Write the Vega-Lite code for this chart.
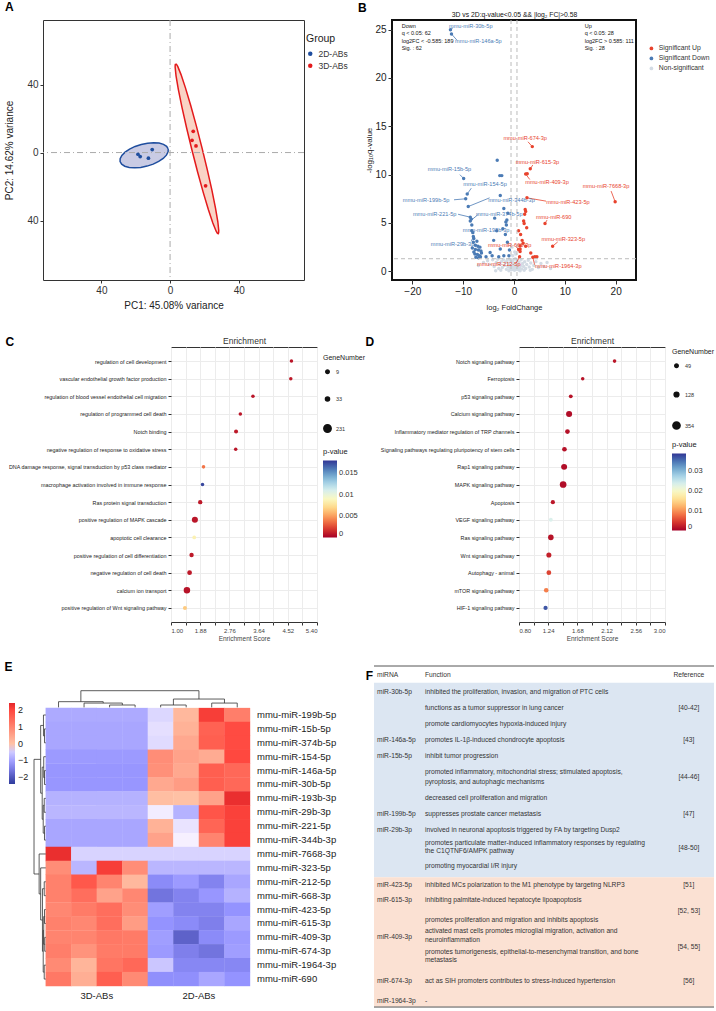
{
"$schema": "https://vega.github.io/schema/vega-lite/v6.json",
"padding": {"left": 3, "top": 0, "right": 0, "bottom": 0},
"background": "white",
"config": {
  "font": "Liberation Sans",
  "view": {"stroke": "#333"},
  "axis": {"labelColor": "#333", "titleColor": "#222", "titleFontWeight": "normal", "tickColor": "#333", "domainColor": "#333"},
  "legend": {"labelColor": "#333", "titleColor": "#222", "titleFontWeight": "normal"}
},
"datasets": {
  "ellB": [
    {"i":0,"x":-1.09,"y":2.15},{"i":15,"x":-2.01,"y":3.68},{"i":30,"x":-3.82,"y":4.84},{"i":45,"x":-6.40,"y":5.56},{"i":60,"x":-9.58,"y":5.80},{"i":75,"x":-13.13,"y":5.53},{"i":90,"x":-16.81,"y":4.78},{"i":105,"x":-20.38,"y":3.59},{"i":120,"x":-23.58,"y":2.04},{"i":135,"x":-26.21,"y":0.25},{"i":150,"x":-28.08,"y":-1.66},{"i":165,"x":-29.07,"y":-3.58},{"i":180,"x":-29.11,"y":-5.35},{"i":195,"x":-28.19,"y":-6.88},{"i":210,"x":-26.38,"y":-8.04},{"i":225,"x":-23.80,"y":-8.76},{"i":240,"x":-20.62,"y":-9.00},{"i":255,"x":-17.08,"y":-8.73},{"i":270,"x":-13.39,"y":-7.98},{"i":285,"x":-9.83,"y":-6.79},{"i":300,"x":-6.62,"y":-5.24},{"i":315,"x":-3.99,"y":-3.45},{"i":330,"x":-2.12,"y":-1.54},{"i":345,"x":-1.13,"y":0.38},{"i":360,"x":-1.09,"y":2.15}
  ],
  "ellR": [
    {"i":0,"x":3.28,"y":52.19},{"i":7.5,"x":3.01,"y":51.67},{"i":15,"x":2.95,"y":50.30},{"i":30,"x":3.48,"y":45.13},{"i":45,"x":4.84,"y":37.04},{"i":60,"x":6.94,"y":26.57},{"i":75,"x":9.64,"y":14.44},{"i":90,"x":12.74,"y":1.48},{"i":105,"x":16.04,"y":-11.43},{"i":120,"x":19.31,"y":-23.42},{"i":135,"x":22.34,"y":-33.66},{"i":150,"x":24.91,"y":-41.45},{"i":165,"x":26.84,"y":-46.27},{"i":172.5,"x":27.53,"y":-47.45},{"i":180,"x":28.02,"y":-47.79},{"i":187.5,"x":28.29,"y":-47.27},{"i":195,"x":28.35,"y":-45.90},{"i":210,"x":27.82,"y":-40.73},{"i":225,"x":26.46,"y":-32.64},{"i":240,"x":24.36,"y":-22.17},{"i":255,"x":21.66,"y":-10.04},{"i":270,"x":18.56,"y":2.92},{"i":285,"x":15.26,"y":15.83},{"i":300,"x":11.99,"y":27.82},{"i":315,"x":8.96,"y":38.06},{"i":330,"x":6.39,"y":45.85},{"i":345,"x":4.46,"y":50.67},{"i":352.5,"x":3.77,"y":51.85},{"i":360,"x":3.28,"y":52.19}
  ],
  "pca": [
    {"x":-18.7,"y":-1.0,"g":"2D-ABs"},{"x":-17.4,"y":-2.35,"g":"2D-ABs"},{"x":-12.6,"y":-3.35,"g":"2D-ABs"},{"x":-10.4,"y":1.76,"g":"2D-ABs"},
    {"x":13.5,"y":12.5,"g":"3D-ABs"},{"x":12.8,"y":7.2,"g":"3D-ABs"},{"x":15.1,"y":3.9,"g":"3D-ABs"},{"x":20.7,"y":-19.6,"g":"3D-ABs"}
  ],
  "volc": [
    {"x":-6.0,"y":0.9,"g":"n"},{"x":-5.2,"y":1.1,"g":"n"},{"x":-4.8,"y":0.7,"g":"n"},{"x":-4.2,"y":1.2,"g":"n"},{"x":-3.9,"y":0.5,"g":"n"},{"x":-3.5,"y":0.9,"g":"n"},{"x":-3.2,"y":1.25,"g":"n"},{"x":-3.0,"y":0.3,"g":"n"},{"x":-2.8,"y":0.7,"g":"n"},{"x":-2.5,"y":1.0,"g":"n"},{"x":-2.3,"y":0.4,"g":"n"},{"x":-2.1,"y":1.2,"g":"n"},{"x":-1.9,"y":0.6,"g":"n"},{"x":-1.7,"y":0.9,"g":"n"},{"x":-1.5,"y":0.2,"g":"n"},{"x":-1.4,"y":1.1,"g":"n"},{"x":-1.2,"y":0.5,"g":"n"},{"x":-1.1,"y":0.8,"g":"n"},{"x":-0.9,"y":1.25,"g":"n"},{"x":-0.8,"y":0.3,"g":"n"},{"x":-0.7,"y":0.6,"g":"n"},{"x":-0.6,"y":1.0,"g":"n"},{"x":-0.5,"y":0.15,"g":"n"},{"x":-0.4,"y":0.4,"g":"n"},{"x":-0.3,"y":0.7,"g":"n"},{"x":-0.2,"y":0.9,"g":"n"},{"x":-0.1,"y":0.2,"g":"n"},{"x":0.0,"y":0.5,"g":"n"},{"x":0.1,"y":0.1,"g":"n"},{"x":0.2,"y":0.35,"g":"n"},{"x":0.3,"y":0.8,"g":"n"},{"x":0.4,"y":0.6,"g":"n"},{"x":0.5,"y":0.2,"g":"n"},{"x":0.6,"y":1.1,"g":"n"},{"x":0.7,"y":0.45,"g":"n"},{"x":0.8,"y":0.75,"g":"n"},{"x":0.9,"y":0.15,"g":"n"},{"x":1.0,"y":0.95,"g":"n"},{"x":1.1,"y":0.35,"g":"n"},{"x":1.3,"y":0.6,"g":"n"},{"x":1.4,"y":1.2,"g":"n"},{"x":1.5,"y":0.25,"g":"n"},{"x":1.7,"y":0.8,"g":"n"},{"x":1.9,"y":0.5,"g":"n"},{"x":2.1,"y":1.0,"g":"n"},{"x":2.3,"y":0.3,"g":"n"},{"x":2.5,"y":0.7,"g":"n"},{"x":2.8,"y":1.15,"g":"n"},{"x":3.0,"y":0.45,"g":"n"},{"x":3.3,"y":0.85,"g":"n"},{"x":3.6,"y":0.2,"g":"n"},{"x":3.9,"y":0.6,"g":"n"},{"x":4.3,"y":1.0,"g":"n"},{"x":4.8,"y":0.4,"g":"n"},{"x":5.3,"y":0.8,"g":"n"},{"x":5.9,"y":0.5,"g":"n"},{"x":6.5,"y":0.9,"g":"n"},{"x":-0.25,"y":1.6,"g":"n"},{"x":0.15,"y":2.0,"g":"n"},{"x":-0.4,"y":2.5,"g":"n"},{"x":0.35,"y":1.8,"g":"n"},{"x":-7.0,"y":0.6,"g":"n"},{"x":7.2,"y":0.3,"g":"n"},{"x":-1.0,"y":0.05,"g":"n"},{"x":0.05,"y":0.8,"g":"n"},{"x":1.2,"y":0.05,"g":"n"},{"x":-2.6,"y":0.1,"g":"n"},{"x":2.0,"y":0.1,"g":"n"},{"x":-3.6,"y":0.05,"g":"n"},{"x":3.2,"y":0.1,"g":"n"},{"x":-0.15,"y":1.2,"g":"n"},{"x":0.25,"y":1.3,"g":"n"},
    {"x":-12.5,"y":25.0,"g":"d"},{"x":-12.3,"y":24.55,"g":"d"},{"x":-9.9,"y":9.6,"g":"d"},{"x":-9.2,"y":8.0,"g":"d"},{"x":-9.5,"y":7.5,"g":"d"},{"x":-9.0,"y":6.7,"g":"d"},{"x":-8.6,"y":5.6,"g":"d"},{"x":-8.6,"y":5.2,"g":"d"},{"x":-8.3,"y":4.2,"g":"d"},{"x":-8.0,"y":3.6,"g":"d"},
    {"x":-3.3,"y":11.5,"g":"d"},{"x":-2.8,"y":9.9,"g":"d"},{"x":-2.4,"y":9.9,"g":"d"},{"x":-2.7,"y":7.85,"g":"d"},{"x":-2.0,"y":6.5,"g":"d"},{"x":-3.8,"y":5.5,"g":"d"},{"x":-1.6,"y":5.1,"g":"d"},{"x":-1.5,"y":4.8,"g":"d"},{"x":-3.4,"y":4.2,"g":"d"},{"x":-1.7,"y":3.8,"g":"d"},{"x":-4.0,"y":3.2,"g":"d"},{"x":-1.3,"y":3.0,"g":"d"},{"x":-4.7,"y":1.95,"g":"d"},{"x":-2.7,"y":2.3,"g":"d"},{"x":-6.4,"y":1.9,"g":"d"},{"x":-7.6,"y":2.7,"g":"d"},{"x":-7.1,"y":2.6,"g":"d"},{"x":-6.7,"y":2.5,"g":"d"},{"x":-7.6,"y":2.25,"g":"d"},{"x":-7.0,"y":2.2,"g":"d"},{"x":-6.5,"y":2.1,"g":"d"},{"x":-7.7,"y":1.8,"g":"d"},{"x":-7.2,"y":1.75,"g":"d"},{"x":-6.8,"y":1.6,"g":"d"},{"x":-7.5,"y":1.45,"g":"d"},{"x":-7.0,"y":1.4,"g":"d"},{"x":-6.6,"y":1.5,"g":"d"},{"x":-7.9,"y":2.0,"g":"d"},{"x":-8.0,"y":3.0,"g":"d"},{"x":-8.2,"y":2.4,"g":"d"},{"x":-7.3,"y":3.1,"g":"d"},{"x":-1.2,"y":6.0,"g":"d"},{"x":-1.4,"y":5.3,"g":"d"},{"x":-2.2,"y":4.4,"g":"d"},{"x":-0.9,"y":2.2,"g":"d"},{"x":-1.0,"y":1.6,"g":"d"},{"x":-2.0,"y":1.6,"g":"d"},{"x":-3.0,"y":1.5,"g":"d"},{"x":-4.3,"y":1.6,"g":"d"},{"x":-5.5,"y":1.5,"g":"d"},{"x":-8.3,"y":4.8,"g":"d"},{"x":-8.4,"y":5.4,"g":"d"},{"x":-8.1,"y":4.0,"g":"d"},{"x":-7.9,"y":3.4,"g":"d"},
    {"x":3.6,"y":12.9,"g":"u"},{"x":3.2,"y":10.6,"g":"u"},{"x":2.3,"y":10.06,"g":"u"},{"x":19.9,"y":7.2,"g":"u"},{"x":2.55,"y":7.6,"g":"u"},{"x":6.1,"y":4.95,"g":"u"},{"x":7.6,"y":2.6,"g":"u"},{"x":3.7,"y":1.45,"g":"u"},{"x":1.1,"y":1.5,"g":"u"},{"x":0.9,"y":2.25,"g":"u"},{"x":2.6,"y":10.1,"g":"u"},{"x":2.2,"y":6.4,"g":"u"},{"x":2.3,"y":6.2,"g":"u"},{"x":2.1,"y":5.9,"g":"u"},{"x":1.9,"y":5.2,"g":"u"},{"x":2.0,"y":4.95,"g":"u"},{"x":0.9,"y":4.2,"g":"u"},{"x":1.3,"y":3.8,"g":"u"},{"x":1.6,"y":3.2,"g":"u"},{"x":1.2,"y":2.65,"g":"u"},{"x":1.2,"y":2.3,"g":"u"},{"x":1.2,"y":2.05,"g":"u"},{"x":2.3,"y":2.6,"g":"u"},{"x":3.3,"y":1.9,"g":"u"},{"x":4.1,"y":1.5,"g":"u"},{"x":4.5,"y":1.5,"g":"u"},{"x":1.8,"y":2.9,"g":"u"},{"x":2.5,"y":4.5,"g":"u"}
  ],
  "vlab": [
    {"n":"mmu-miR-30b-5p","g":"d","px":-12.5,"py":25.0,"ex":-12.0,"ey":25.2,"lx":-8.5,"ly":25.4},
    {"n":"mmu-miR-146a-5p","g":"d","px":-12.3,"py":24.55,"ex":-11.2,"ey":23.9,"lx":-7.0,"ly":23.8},
    {"n":"mmu-miR-674-3p","g":"u","px":3.6,"py":12.9,"ex":2.75,"ey":13.4,"lx":2.2,"ly":13.8},
    {"n":"mmu-miR-615-3p","g":"u","px":3.2,"py":10.6,"ex":3.7,"ey":11.0,"lx":4.6,"ly":11.3},
    {"n":"mmu-miR-409-3p","g":"u","px":2.3,"py":10.06,"ex":3.1,"ey":9.5,"lx":6.5,"ly":9.2},
    {"n":"mmu-miR-7668-3p","g":"u","px":19.9,"py":7.2,"ex":19.1,"ey":8.3,"lx":18.1,"ly":8.8},
    {"n":"mmu-miR-423-5p","g":"u","px":2.55,"py":7.6,"ex":6.3,"ey":7.26,"lx":10.6,"ly":7.2},
    {"n":"mmu-miR-690","g":"u","px":6.1,"py":4.95,"ex":6.5,"ey":5.3,"lx":7.8,"ly":5.6},
    {"n":"mmu-miR-323-5p","g":"u","px":7.6,"py":2.6,"ex":8.6,"ey":3.04,"lx":9.7,"ly":3.35},
    {"n":"mmu-miR-1964-3p","g":"u","px":3.7,"py":1.45,"ex":4.05,"ey":0.69,"lx":8.7,"ly":0.5},
    {"n":"mmu-miR-212-5p","g":"u","px":1.1,"py":1.5,"ex":0.45,"ey":0.86,"lx":-3.0,"ly":0.76},
    {"n":"mmu-miR-668-3p","g":"u","px":0.9,"py":2.25,"ex":0.5,"ey":2.5,"lx":-0.85,"ly":2.67},
    {"n":"mmu-miR-15b-5p","g":"d","px":-9.9,"py":9.6,"ex":-10.65,"ey":10.0,"lx":-12.7,"ly":10.6},
    {"n":"mmu-miR-154-5p","g":"d","px":-9.2,"py":8.0,"ex":-8.4,"ey":8.6,"lx":-5.7,"ly":9.0},
    {"n":"mmu-miR-199b-5p","g":"d","px":-9.5,"py":7.5,"ex":-11.8,"ey":7.4,"lx":-17.3,"ly":7.4},
    {"n":"mmu-miR-344b-3p","g":"d","px":-9.0,"py":6.7,"ex":-4.8,"ey":7.6,"lx":-0.5,"ly":7.4},
    {"n":"mmu-miR-221-5p","g":"d","px":-8.6,"py":5.6,"ex":-11.0,"ey":5.9,"lx":-15.6,"ly":5.9},
    {"n":"mmu-miR-374b-5p","g":"d","px":-8.6,"py":5.2,"ex":-7.05,"ey":5.88,"lx":-2.9,"ly":5.9},
    {"n":"mmu-miR-193b-3p","g":"d","px":-8.3,"py":4.2,"ex":-8.0,"ey":4.3,"lx":-5.5,"ly":4.3},
    {"n":"mmu-miR-29b-3p","g":"d","px":-8.0,"py":3.6,"ex":-8.4,"ey":3.1,"lx":-12.1,"ly":2.8}
  ],
  "vann": [
    {"t":"Down","x":-22.1,"y":25.4},{"t":"q < 0.05: 62","x":-22.1,"y":24.62},{"t":"log2FC < -0.585: 189","x":-22.1,"y":23.84},{"t":"Sig. : 62","x":-22.1,"y":23.06},
    {"t":"Up","x":13.9,"y":25.4},{"t":"q < 0.05: 28","x":13.9,"y":24.62},{"t":"log2FC > 0.585: 111","x":13.9,"y":23.84},{"t":"Sig. : 28","x":13.9,"y":23.06}
  ],
  "go": [
    {"t":"regulation of cell development","s":4.63,"n":10,"p":0.0008},
    {"t":"vascular endothelial growth factor production","s":4.61,"n":11,"p":0.0009},
    {"t":"regulation of blood vessel endothelial cell migration","s":3.47,"n":11,"p":0.0008},
    {"t":"regulation of programmed cell death","s":3.09,"n":12,"p":0.0008},
    {"t":"Notch binding","s":2.96,"n":30,"p":0.0009},
    {"t":"negative regulation of response to oxidative stress","s":2.95,"n":10,"p":0.0008},
    {"t":"DNA damage response, signal transduction by p53 class mediator","s":1.98,"n":12,"p":0.0038},
    {"t":"macrophage activation involved in immune response","s":1.95,"n":10,"p":0.0175},
    {"t":"Ras protein signal transduction","s":1.88,"n":45,"p":0.0009},
    {"t":"positive regulation of MAPK cascade","s":1.72,"n":140,"p":0.0008},
    {"t":"apoptotic cell clearance","s":1.70,"n":20,"p":0.0085},
    {"t":"positive regulation of cell differentiation","s":1.62,"n":45,"p":0.0009},
    {"t":"negative regulation of cell death","s":1.56,"n":65,"p":0.0009},
    {"t":"calcium ion transport","s":1.48,"n":170,"p":0.0007},
    {"t":"positive regulation of Wnt signaling pathway","s":1.42,"n":30,"p":0.0065}
  ],
  "kegg": [
    {"t":"Notch signaling pathway","s":2.24,"n":60,"p":0.0018},
    {"t":"Ferroptosis","s":1.76,"n":52,"p":0.0015},
    {"t":"p53 signaling pathway","s":1.58,"n":72,"p":0.0015},
    {"t":"Calcium signaling pathway","s":1.555,"n":240,"p":0.001},
    {"t":"Inflammatory mediator regulation of TRP channels","s":1.53,"n":125,"p":0.0013},
    {"t":"Signaling pathways regulating pluripotency of stem cells","s":1.485,"n":125,"p":0.0013},
    {"t":"Rap1 signaling pathway","s":1.48,"n":230,"p":0.001},
    {"t":"MAPK signaling pathway","s":1.465,"n":300,"p":0.001},
    {"t":"Apoptosis","s":1.31,"n":95,"p":0.0018},
    {"t":"VEGF signaling pathway","s":1.28,"n":70,"p":0.0235},
    {"t":"Ras signaling pathway","s":1.28,"n":190,"p":0.0015},
    {"t":"Wnt signaling pathway","s":1.25,"n":155,"p":0.0025},
    {"t":"Autophagy - animal","s":1.25,"n":130,"p":0.005},
    {"t":"mTOR signaling pathway","s":1.21,"n":115,"p":0.0088},
    {"t":"HIF-1 signaling pathway","s":1.20,"n":95,"p":0.037}
  ],
  "heat": [
    {"m":"mmu-miR-199b-5p","r":0.5,"c":[0.5,1.5,2.5,3.5,4.5,5.5,6.5,7.5],"v":[-0.9,-0.9,-0.9,-0.9,-0.35,0.15,2.1,1.1]},
    {"m":"mmu-miR-15b-5p","r":1.5,"c":[0.5,1.5,2.5,3.5,4.5,5.5,6.5,7.5],"v":[-0.95,-0.95,-0.95,-0.95,-0.25,0.25,1.55,1.9]},
    {"m":"mmu-miR-374b-5p","r":2.5,"c":[0.5,1.5,2.5,3.5,4.5,5.5,6.5,7.5],"v":[-0.95,-0.95,-0.95,-0.95,-0.3,0.4,1.6,1.9]},
    {"m":"mmu-miR-154-5p","r":3.5,"c":[0.5,1.5,2.5,3.5,4.5,5.5,6.5,7.5],"v":[-1.1,-1.1,-1.1,-1.1,0.85,0.5,0.35,1.95]},
    {"m":"mmu-miR-146a-5p","r":4.5,"c":[0.5,1.5,2.5,3.5,4.5,5.5,6.5,7.5],"v":[-1.15,-1.15,-1.15,-1.15,0.8,0.4,1.6,1.45]},
    {"m":"mmu-miR-30b-5p","r":5.5,"c":[0.5,1.5,2.5,3.5,4.5,5.5,6.5,7.5],"v":[-1.15,-1.15,-1.15,-1.15,0.4,0.6,1.6,1.45]},
    {"m":"mmu-miR-193b-3p","r":6.5,"c":[0.5,1.5,2.5,3.5,4.5,5.5,6.5,7.5],"v":[-0.8,-0.8,-0.8,-0.8,0.05,0.0,0.5,2.3]},
    {"m":"mmu-miR-29b-3p","r":7.5,"c":[0.5,1.5,2.5,3.5,4.5,5.5,6.5,7.5],"v":[-0.75,-0.75,-0.75,-0.75,-0.1,-0.8,1.75,2.05]},
    {"m":"mmu-miR-221-5p","r":8.5,"c":[0.5,1.5,2.5,3.5,4.5,5.5,6.5,7.5],"v":[-0.95,-0.95,-0.95,-0.95,0.25,-0.2,1.5,2.05]},
    {"m":"mmu-miR-344b-3p","r":9.5,"c":[0.5,1.5,2.5,3.5,4.5,5.5,6.5,7.5],"v":[-0.95,-0.95,-0.95,-0.95,0.5,-0.05,1.0,2.05]},
    {"m":"mmu-miR-7668-3p","r":10.5,"c":[0.5,1.5,2.5,3.5,4.5,5.5,6.5,7.5],"v":[2.3,-0.4,-0.4,-0.4,-0.4,-0.4,-0.4,-0.4]},
    {"m":"mmu-miR-323-5p","r":11.5,"c":[0.5,1.5,2.5,3.5,4.5,5.5,6.5,7.5],"v":[0.85,-0.75,2.1,0.85,-0.75,-0.75,-0.75,-0.75]},
    {"m":"mmu-miR-212-5p","r":12.5,"c":[0.5,1.5,2.5,3.5,4.5,5.5,6.5,7.5],"v":[1.05,1.7,1.0,0.15,-1.3,-1.1,-1.4,-0.95]},
    {"m":"mmu-miR-668-3p","r":13.5,"c":[0.5,1.5,2.5,3.5,4.5,5.5,6.5,7.5],"v":[1.05,1.35,0.5,0.95,-1.6,-1.4,-1.15,-0.8]},
    {"m":"mmu-miR-423-5p","r":14.5,"c":[0.5,1.5,2.5,3.5,4.5,5.5,6.5,7.5],"v":[0.95,1.15,1.35,0.85,-1.05,-1.4,-1.4,-1.2]},
    {"m":"mmu-miR-615-3p","r":15.5,"c":[0.5,1.5,2.5,3.5,4.5,5.5,6.5,7.5],"v":[1.05,0.95,1.35,0.6,-1.2,-1.3,-1.45,-0.95]},
    {"m":"mmu-miR-409-3p","r":16.5,"c":[0.5,1.5,2.5,3.5,4.5,5.5,6.5,7.5],"v":[1.0,1.0,1.2,1.15,-1.05,-1.85,-1.3,-1.1]},
    {"m":"mmu-miR-674-3p","r":17.5,"c":[0.5,1.5,2.5,3.5,4.5,5.5,6.5,7.5],"v":[1.1,0.75,1.15,1.15,-1.1,-1.45,-1.6,-1.05]},
    {"m":"mmu-miR-1964-3p","r":18.5,"c":[0.5,1.5,2.5,3.5,4.5,5.5,6.5,7.5],"v":[0.9,0.2,1.25,1.45,-0.55,-1.35,-1.35,-1.35]},
    {"m":"mmu-miR-690","r":19.5,"c":[0.5,1.5,2.5,3.5,4.5,5.5,6.5,7.5],"v":[1.2,0.3,1.6,0.9,-1.25,-1.25,-0.95,-1.2]}
  ],
  "dtop": [
    {"p1":2.5,"h1":-0.05,"p2":2.5,"h2":-0.22},{"p1":3.5,"h1":-0.05,"p2":3.5,"h2":-0.22},{"p1":2.5,"h1":-0.22,"p2":3.5,"h2":-0.22},
    {"p1":1.5,"h1":-0.05,"p2":1.5,"h2":-0.36},{"p1":3.0,"h1":-0.22,"p2":3.0,"h2":-0.36},{"p1":1.5,"h1":-0.36,"p2":3.0,"h2":-0.36},
    {"p1":0.5,"h1":-0.05,"p2":0.5,"h2":-0.46},{"p1":2.25,"h1":-0.36,"p2":2.25,"h2":-0.46},{"p1":0.5,"h1":-0.46,"p2":2.25,"h2":-0.46},
    {"p1":4.5,"h1":-0.05,"p2":4.5,"h2":-0.22},{"p1":5.5,"h1":-0.05,"p2":5.5,"h2":-0.22},{"p1":4.5,"h1":-0.22,"p2":5.5,"h2":-0.22},
    {"p1":6.5,"h1":-0.05,"p2":6.5,"h2":-0.36},{"p1":7.5,"h1":-0.05,"p2":7.5,"h2":-0.36},{"p1":6.5,"h1":-0.36,"p2":7.5,"h2":-0.36},
    {"p1":5.0,"h1":-0.22,"p2":5.0,"h2":-0.65},{"p1":7.0,"h1":-0.36,"p2":7.0,"h2":-0.65},{"p1":5.0,"h1":-0.65,"p2":7.0,"h2":-0.65},
    {"p1":1.375,"h1":-0.46,"p2":1.375,"h2":-1.25},{"p1":6.0,"h1":-0.65,"p2":6.0,"h2":-1.25},{"p1":1.375,"h1":-1.25,"p2":6.0,"h2":-1.25}
  ],
  "dleft": [
    {"h1":0,"p1":1.5,"h2":-0.05,"p2":1.5},{"h1":0,"p1":2.5,"h2":-0.05,"p2":2.5},{"h1":-0.05,"p1":1.5,"h2":-0.05,"p2":2.5},
    {"h1":0,"p1":0.5,"h2":-0.09,"p2":0.5},{"h1":-0.05,"p1":2,"h2":-0.09,"p2":2},{"h1":-0.09,"p1":0.5,"h2":-0.09,"p2":2},
    {"h1":0,"p1":4.5,"h2":-0.05,"p2":4.5},{"h1":0,"p1":5.5,"h2":-0.05,"p2":5.5},{"h1":-0.05,"p1":4.5,"h2":-0.05,"p2":5.5},
    {"h1":0,"p1":3.5,"h2":-0.08,"p2":3.5},{"h1":-0.05,"p1":5,"h2":-0.08,"p2":5},{"h1":-0.08,"p1":3.5,"h2":-0.08,"p2":5},
    {"h1":0,"p1":6.5,"h2":-0.06,"p2":6.5},{"h1":0,"p1":7.5,"h2":-0.06,"p2":7.5},{"h1":-0.06,"p1":6.5,"h2":-0.06,"p2":7.5},
    {"h1":0,"p1":8.5,"h2":-0.05,"p2":8.5},{"h1":0,"p1":9.5,"h2":-0.05,"p2":9.5},{"h1":-0.05,"p1":8.5,"h2":-0.05,"p2":9.5},
    {"h1":-0.06,"p1":7,"h2":-0.1,"p2":7},{"h1":-0.05,"p1":9,"h2":-0.1,"p2":9},{"h1":-0.1,"p1":7,"h2":-0.1,"p2":9},
    {"h1":-0.08,"p1":4.25,"h2":-0.14,"p2":4.25},{"h1":-0.1,"p1":8,"h2":-0.14,"p2":8},{"h1":-0.14,"p1":4.25,"h2":-0.14,"p2":8},
    {"h1":-0.09,"p1":1.25,"h2":-0.2,"p2":1.25},{"h1":-0.14,"p1":6.125,"h2":-0.2,"p2":6.125},{"h1":-0.2,"p1":1.25,"h2":-0.2,"p2":6.125},
    {"h1":0,"p1":12.5,"h2":-0.06,"p2":12.5},{"h1":0,"p1":13.5,"h2":-0.06,"p2":13.5},{"h1":-0.06,"p1":12.5,"h2":-0.06,"p2":13.5},
    {"h1":0,"p1":14.5,"h2":-0.05,"p2":14.5},{"h1":0,"p1":15.5,"h2":-0.05,"p2":15.5},{"h1":-0.05,"p1":14.5,"h2":-0.05,"p2":15.5},
    {"h1":0,"p1":16.5,"h2":-0.04,"p2":16.5},{"h1":0,"p1":17.5,"h2":-0.04,"p2":17.5},{"h1":-0.04,"p1":16.5,"h2":-0.04,"p2":17.5},
    {"h1":0,"p1":18.5,"h2":-0.06,"p2":18.5},{"h1":0,"p1":19.5,"h2":-0.06,"p2":19.5},{"h1":-0.06,"p1":18.5,"h2":-0.06,"p2":19.5},
    {"h1":-0.05,"p1":15,"h2":-0.08,"p2":15},{"h1":-0.04,"p1":17,"h2":-0.08,"p2":17},{"h1":-0.08,"p1":15,"h2":-0.08,"p2":17},
    {"h1":-0.08,"p1":16,"h2":-0.1,"p2":16},{"h1":-0.06,"p1":19,"h2":-0.1,"p2":19},{"h1":-0.1,"p1":16,"h2":-0.1,"p2":19},
    {"h1":-0.06,"p1":13,"h2":-0.13,"p2":13},{"h1":-0.1,"p1":17.5,"h2":-0.13,"p2":17.5},{"h1":-0.13,"p1":13,"h2":-0.13,"p2":17.5},
    {"h1":0,"p1":11.5,"h2":-0.2,"p2":11.5},{"h1":-0.13,"p1":15.25,"h2":-0.2,"p2":15.25},{"h1":-0.2,"p1":11.5,"h2":-0.2,"p2":15.25},
    {"h1":0,"p1":10.5,"h2":-0.26,"p2":10.5},{"h1":-0.2,"p1":13.375,"h2":-0.26,"p2":13.375},{"h1":-0.26,"p1":10.5,"h2":-0.26,"p2":13.375},
    {"h1":-0.2,"p1":3.69,"h2":-0.46,"p2":3.69},{"h1":-0.26,"p1":11.94,"h2":-0.46,"p2":11.94},{"h1":-0.46,"p1":3.69,"h2":-0.46,"p2":11.94}
  ],
  "fm": [
    {"t":"miRNA","l":1.16},{"t":"miR-30b-5p","l":3.25},{"t":"miR-146a-5p","l":9.29},{"t":"miR-15b-5p","l":11.29},{"t":"miR-199b-5p","l":18.46},{"t":"miR-29b-3p","l":20.46},{"t":"miR-423-5p","l":27.34},{"t":"miR-615-3p","l":29.29},{"t":"miR-409-3p","l":33.91},{"t":"miR-674-3p","l":39.34},{"t":"miR-1964-3p","l":41.91}
  ],
  "ff": [
    {"t":"Function","l":1.16},
    {"t":"inhibited the proliferation, invasion, and migration of PTC cells","l":3.25},
    {"t":"functions as a tumor suppressor in lung cancer","l":5.25},
    {"t":"promote cardiomyocytes hypoxia-induced injury","l":7.31},
    {"t":"promotes IL-1β-induced chondrocyte apoptosis","l":9.29},
    {"t":"inhibit tumor progression","l":11.29},
    {"t":"promoted inflammatory, mitochondrial stress; stimulated apoptosis,","l":13.29},
    {"t":"pyroptosis, and autophagic mechanisms","l":14.54},
    {"t":"decreased cell proliferation and migration","l":16.5},
    {"t":"suppresses prostate cancer metastasis","l":18.46},
    {"t":"involved in neuronal apoptosis triggered by FA by targeting Dusp2","l":20.46},
    {"t":"promotes particulate matter-induced inflammatory responses by regulating","l":22.13},
    {"t":"the C1QTNF6/AMPK pathway","l":23.16},
    {"t":"promoting myocardial I/R injury","l":25.04},
    {"t":"inhibited MCs polarization to the M1 phenotype by targeting NLRP3","l":27.34},
    {"t":"inhibiting palmitate-induced hepatocyte lipoapoptosis","l":29.29},
    {"t":"promotes proliferation and migration and inhibits apoptosis","l":31.71},
    {"t":"activated mast cells promotes microglial migration, activation and","l":33.16},
    {"t":"neuroinflammation","l":34.21},
    {"t":"promotes tumorigenesis, epithelial-to-mesenchymal transition, and bone","l":35.79},
    {"t":"metastasis","l":36.79},
    {"t":"act as SIH promoters contributes to stress-induced hypertension","l":39.34},
    {"t":"-","l":41.91}
  ],
  "fr": [
    {"t":"Reference","l":1.16},{"t":"[40-42]","l":5.25},{"t":"[43]","l":9.29},{"t":"[44-46]","l":13.91},{"t":"[47]","l":18.46},{"t":"[48-50]","l":22.75},{"t":"[51]","l":27.34},{"t":"[52, 53]","l":30.59},{"t":"[54, 55]","l":35.13},{"t":"[56]","l":39.34}
  ]
},
"resolve": {"scale": {"color": "independent", "size": "independent"}, "legend": {"color": "independent", "size": "independent"}},
"spacing": 22,
"vconcat": [
 {
  "spacing": 0,
  "resolve": {"scale": {"color": "independent", "size": "independent"}, "legend": {"color": "independent", "size": "independent"}},
  "hconcat": [
   {"width": 1, "height": 10, "view": {"stroke": null}, "data": {"values": []}, "mark": "point"},
   {
    "spacing": 7,
    "resolve": {"scale": {"color": "independent", "size": "independent"}, "legend": {"color": "independent", "size": "independent"}},
    "hconcat": [
     {
      "width": 261, "height": 260,
      "title": {"text": "A", "anchor": "start", "fontSize": 12, "fontWeight": "bold", "offset": 6},
      "layer": [
       {"data": {"name": "ellB"}, "mark": {"type": "line", "fill": "#c9cbe4", "stroke": "#1f4e9e", "strokeWidth": 1.5},
        "encoding": {
         "x": {"field": "x", "type": "quantitative", "scale": {"domain": [-74, 78], "nice": false, "zero": false},
               "axis": {"values": [-40, 0, 40], "labelExpr": "format(abs(datum.value),'d')", "title": "PC1: 45.08% variance", "titleFontSize": 10, "labelFontSize": 10, "tickSize": 3, "domain": false, "titlePadding": 5, "grid": false}},
         "y": {"field": "y", "type": "quantitative", "scale": {"domain": [-75, 78], "nice": false, "zero": false},
               "axis": {"values": [-40, 0, 40], "labelExpr": "format(abs(datum.value),'d')", "title": "PC2: 14.62% variance", "titleFontSize": 10, "labelFontSize": 10, "tickSize": 3, "domain": false, "titlePadding": 12, "grid": false}},
         "order": {"field": "i", "type": "quantitative"}}},
       {"data": {"name": "ellR"}, "mark": {"type": "line", "fill": "#f9d3c5", "stroke": "#e41a1c", "strokeWidth": 1.5},
        "encoding": {"x": {"field": "x", "type": "quantitative"}, "y": {"field": "y", "type": "quantitative"}, "order": {"field": "i", "type": "quantitative"}}},
       {"data": {"values": [{"x": 0}]}, "mark": {"type": "rule", "strokeDash": [6, 3, 1, 3], "color": "#aaaaaa", "strokeWidth": 1},
        "encoding": {"x": {"field": "x", "type": "quantitative"}}},
       {"data": {"values": [{"y": 0}]}, "mark": {"type": "rule", "strokeDash": [6, 3, 1, 3], "color": "#aaaaaa", "strokeWidth": 1},
        "encoding": {"y": {"field": "y", "type": "quantitative"}}},
       {"data": {"name": "pca"}, "mark": {"type": "point", "filled": true, "opacity": 1, "size": 14, "shape": "circle"},
        "encoding": {
         "x": {"field": "x", "type": "quantitative"},
         "y": {"field": "y", "type": "quantitative"},
         "color": {"field": "g", "type": "nominal", "scale": {"domain": ["2D-ABs", "3D-ABs"], "range": ["#1f4e9e", "#e41a1c"]},
                   "legend": {"title": "Group", "orient": "none", "legendX": 263, "legendY": 14, "titleFontSize": 10.5, "labelFontSize": 8.5, "symbolSize": 20, "symbolType": "circle", "rowPadding": 3}}
        }}
      ]
     },
     {
      "width": 244, "height": 260,
      "view": {"stroke": "#111", "strokeWidth": 2},
      "title": {"text": "B", "anchor": "start", "fontSize": 12, "fontWeight": "bold", "offset": -4, "dx": -8},
      "layer": [
       {"data": {"name": "volc"}, "mark": {"type": "point", "filled": true, "opacity": 1, "size": 12, "shape": "circle"},
        "encoding": {
         "x": {"field": "x", "type": "quantitative", "scale": {"domain": [-24, 24], "nice": false, "zero": false},
               "axis": {"values": [-20, -10, 0, 10, 20], "title": "log₂ FoldChange", "titleFontSize": 7.5, "labelFontSize": 10, "tickSize": 4, "domain": false, "titlePadding": 7, "labelColor": "#222", "grid": false}},
         "y": {"field": "y", "type": "quantitative", "scale": {"domain": [-0.9, 26], "nice": false, "zero": false},
               "axis": {"values": [0, 5, 10, 15, 20, 25], "title": "-log₁₀q-value", "titleFontSize": 8, "labelFontSize": 10, "tickSize": 4, "domain": false, "titlePadding": 1, "labelColor": "#222", "grid": false}},
         "color": {"field": "g", "type": "nominal", "scale": {"domain": ["u", "d", "n"], "range": ["#e8432d", "#4b7bb5", "#d3dbe4"]},
                   "legend": {"title": null, "orient": "none", "legendX": 256, "legendY": 25, "labelExpr": "datum.label == 'u' ? 'Significant Up' : datum.label == 'd' ? 'Significant Down' : 'Non-significant'", "labelFontSize": 6.8, "symbolSize": 14, "symbolType": "circle", "rowPadding": 2}}
        }},
       {"data": {"values": [{"x": -0.585}, {"x": 0.585}]}, "mark": {"type": "rule", "strokeDash": [4, 3], "color": "#bbbbbb", "strokeWidth": 1},
        "encoding": {"x": {"field": "x", "type": "quantitative", "axis": null}}},
       {"data": {"values": [{"y": 1.301}]}, "mark": {"type": "rule", "strokeDash": [4, 3], "color": "#bbbbbb", "strokeWidth": 1},
        "encoding": {"y": {"field": "y", "type": "quantitative"}}},
       {"data": {"name": "vlab"}, "mark": {"type": "rule", "strokeWidth": 0.8},
        "encoding": {"x": {"field": "px", "type": "quantitative", "axis": null}, "y": {"field": "py", "type": "quantitative"}, "x2": {"field": "ex"}, "y2": {"field": "ey"},
                     "color": {"condition": {"test": "datum.g === 'u'", "value": "#e8432d"}, "value": "#4b7bb5"}}},
       {"data": {"name": "vlab"}, "mark": {"type": "text", "fontSize": 5.6, "baseline": "middle", "align": "center"},
        "encoding": {"x": {"field": "lx", "type": "quantitative", "axis": null}, "y": {"field": "ly", "type": "quantitative"}, "text": {"field": "n"},
                     "color": {"condition": {"test": "datum.g === 'u'", "value": "#e8432d"}, "value": "#4b7bb5"}}},
       {"data": {"name": "vann"}, "mark": {"type": "text", "fontSize": 5.5, "baseline": "middle", "align": "left", "color": "#111"},
        "encoding": {"x": {"field": "x", "type": "quantitative", "axis": {"orient": "top", "title": "3D vs 2D:q-value<0.05 && |log₂ FC|>0.58", "labels": false, "ticks": false, "domain": false, "grid": false, "titleFontSize": 6.8, "titlePadding": 3, "titleColor": "#111"}},
                     "y": {"field": "y", "type": "quantitative"}, "text": {"field": "t"}}}
      ],
      "resolve": {"axis": {"x": "independent"}}
     }
    ]
   }
  ]
 },
 {
  "spacing": 18,
  "resolve": {"scale": {"color": "independent", "size": "independent"}, "legend": {"color": "independent", "size": "independent"}},
  "vconcat": [
   {
    "spacing": 0,
    "resolve": {"scale": {"color": "independent", "size": "independent"}, "legend": {"color": "independent", "size": "independent"}},
    "hconcat": [
     {"width": 1, "height": 10, "view": {"stroke": null}, "data": {"values": []}, "mark": "point"},
     {
      "spacing": -3,
      "resolve": {"scale": {"color": "independent", "size": "independent"}, "legend": {"color": "independent", "size": "independent"}},
      "hconcat": [
       {
        "width": 146, "height": 275,
        "view": {"stroke": "#333", "strokeWidth": 1},
        "data": {"name": "go"},
        "layer": [
         {"mark": {"type": "point", "filled": true, "opacity": 1, "shape": "circle"},
          "encoding": {
           "x": {"field": "s", "type": "quantitative", "scale": {"domain": [1, 5.4], "nice": false, "zero": false},
                 "axis": {"values": [1, 1.44, 1.88, 2.32, 2.76, 3.2, 3.64, 4.08, 4.52, 4.96, 5.4], "labelExpr": "abs((datum.value-1)/0.88 - round((datum.value-1)/0.88)) < 0.01 ? format(datum.value,'.2f') : ''", "grid": true, "gridColor": "#ececec", "title": "Enrichment Score", "titleFontSize": 6.5, "titleColor": "#444", "labelFontSize": 6, "labelColor": "#444", "tickSize": 3, "domain": false, "titlePadding": 2}},
           "y": {"field": "t", "type": "nominal", "sort": null, "scale": {"type": "point", "padding": 0.8},
                 "axis": {"grid": true, "gridColor": "#ececec", "labelFontSize": 5.4, "labelLimit": 0, "tickSize": 3, "domain": false, "labelColor": "#222", "title": "C", "titleAngle": 0, "titleX": -166, "titleY": -6, "titleAlign": "left", "titleBaseline": "middle", "titleFontSize": 12, "titleFontWeight": "bold", "titleColor": "#000"}},
           "size": {"field": "n", "type": "quantitative", "scale": {"type": "linear", "domain": [9, 231], "range": [12, 54], "zero": false},
                    "legend": {"title": "GeneNumber", "orient": "none", "legendX": 152, "legendY": 7, "values": [9, 33, 231], "symbolFillColor": "#111", "symbolStrokeColor": "#111", "symbolType": "circle", "labelFontSize": 5.5, "titleFontSize": 7, "rowPadding": 16, "titlePadding": 8}},
           "color": {"field": "p", "type": "quantitative", "scale": {"scheme": "redyellowblue", "domain": [0, 0.018]},
                     "legend": {"title": "p-value", "orient": "none", "legendX": 152, "legendY": 101, "gradientLength": 77, "gradientThickness": 14, "values": [0, 0.005, 0.01, 0.015], "labelExpr": "format(datum.value,'~g')", "labelFontSize": 7.5, "titleFontSize": 7.5}}
          }},
         {"mark": {"type": "point", "opacity": 0},
          "encoding": {
           "x": {"field": "s", "type": "quantitative", "axis": {"orient": "top", "title": "Enrichment", "labels": false, "ticks": false, "domain": false, "grid": false, "titleFontSize": 8.5, "titlePadding": 2, "titleColor": "#333"}},
           "y": {"field": "t", "type": "nominal", "sort": null}
          }}
        ],
        "resolve": {"axis": {"x": "independent"}}
       },
       {
        "width": 146, "height": 275,
        "view": {"stroke": "#333", "strokeWidth": 1},
        "data": {"name": "kegg"},
        "layer": [
         {"mark": {"type": "point", "filled": true, "opacity": 1, "shape": "circle"},
          "encoding": {
           "x": {"field": "s", "type": "quantitative", "scale": {"domain": [0.8, 3.0], "nice": false, "zero": false},
                 "axis": {"values": [0.8, 1.02, 1.24, 1.46, 1.68, 1.9, 2.12, 2.34, 2.56, 2.78, 3.0], "labelExpr": "abs((datum.value-0.8)/0.44 - round((datum.value-0.8)/0.44)) < 0.01 ? format(datum.value,'.2f') : ''", "grid": true, "gridColor": "#ececec", "title": "Enrichment Score", "titleFontSize": 6.5, "titleColor": "#444", "labelFontSize": 6, "labelColor": "#444", "tickSize": 3, "domain": false, "titlePadding": 2}},
           "y": {"field": "t", "type": "nominal", "sort": null, "scale": {"type": "point", "padding": 0.8},
                 "axis": {"grid": true, "gridColor": "#ececec", "labelFontSize": 5.4, "labelLimit": 0, "tickSize": 3, "domain": false, "labelColor": "#222", "title": "D", "titleAngle": 0, "titleX": -154, "titleY": -6, "titleAlign": "left", "titleBaseline": "middle", "titleFontSize": 12, "titleFontWeight": "bold", "titleColor": "#000"}},
           "size": {"field": "n", "type": "quantitative", "scale": {"type": "linear", "domain": [49, 354], "range": [12, 52], "zero": false},
                    "legend": {"title": "GeneNumber", "orient": "none", "legendX": 153, "legendY": 1, "values": [49, 128, 354], "symbolFillColor": "#111", "symbolStrokeColor": "#111", "symbolType": "circle", "labelFontSize": 5.5, "titleFontSize": 7, "rowPadding": 18, "titlePadding": 8}},
           "color": {"field": "p", "type": "quantitative", "scale": {"scheme": "redyellowblue", "domain": [0, 0.039]},
                     "legend": {"title": "p-value", "orient": "none", "legendX": 153, "legendY": 94, "gradientLength": 77, "gradientThickness": 14, "values": [0, 0.01, 0.02, 0.03], "labelExpr": "format(datum.value,'~g')", "labelFontSize": 7.5, "titleFontSize": 7.5}}
          }},
         {"mark": {"type": "point", "opacity": 0},
          "encoding": {
           "x": {"field": "s", "type": "quantitative", "axis": {"orient": "top", "title": "Enrichment", "labels": false, "ticks": false, "domain": false, "grid": false, "titleFontSize": 8.5, "titlePadding": 2, "titleColor": "#333"}},
           "y": {"field": "t", "type": "nominal", "sort": null}
          }}
        ],
        "resolve": {"axis": {"x": "independent"}}
       }
      ]
     }
    ]
   },
   {
    "spacing": 0,
    "resolve": {"scale": {"color": "independent", "size": "independent"}, "legend": {"color": "independent", "size": "independent"}},
    "hconcat": [
     {"width": 1, "height": 10, "view": {"stroke": null}, "data": {"values": []}, "mark": "point"},
     {
      "spacing": 28,
      "resolve": {"scale": {"color": "independent", "size": "independent"}, "legend": {"color": "independent", "size": "independent"}},
      "hconcat": [
       {
        "width": 217, "height": 296,
        "view": {"stroke": null},
        "layer": [
         {"data": {"name": "heat"}, "transform": [{"flatten": ["c", "v"]}],
          "mark": {"type": "tick", "orient": "horizontal", "size": 25.9, "thickness": 14.3, "opacity": 1},
          "encoding": {
           "x": {"field": "c", "type": "quantitative", "scale": {"domain": [-0.5, 8], "nice": false, "zero": false}, "axis": null},
           "y": {"field": "r", "type": "quantitative", "scale": {"domain": [-1.3, 20], "nice": false, "zero": false, "reverse": true},
                 "axis": {"title": "E", "labels": false, "ticks": false, "domain": false, "grid": false, "titleAngle": 0, "titleX": -29, "titleY": -23.5, "titleAlign": "left", "titleBaseline": "middle", "titleFontSize": 12, "titleFontWeight": "bold", "titleColor": "#000"}},
           "color": {"field": "v", "type": "quantitative", "scale": {"domain": [-2.4, 0, 2.4], "range": ["#2e3c9c", "#ffffff", "#e3262a"]},
                     "legend": {"orient": "none", "legendX": -24, "legendY": 13, "title": null, "direction": "vertical", "gradientLength": 81, "gradientThickness": 6, "values": [-2, -1, 0, 1, 2], "labelFontSize": 9, "labelColor": "#222", "labelOffset": 3}}
          }},
         {"data": {"name": "dtop"}, "mark": {"type": "rule", "color": "#333", "strokeWidth": 0.8},
          "encoding": {"x": {"field": "p1", "type": "quantitative", "axis": null}, "x2": {"field": "p2"}, "y": {"field": "h1", "type": "quantitative"}, "y2": {"field": "h2"}}},
         {"data": {"name": "dleft"}, "mark": {"type": "rule", "color": "#333", "strokeWidth": 0.8},
          "encoding": {"x": {"field": "h1", "type": "quantitative", "axis": null}, "x2": {"field": "h2"}, "y": {"field": "p1", "type": "quantitative"}, "y2": {"field": "p2"}}},
         {"data": {"name": "heat"}, "mark": {"type": "text", "align": "left", "baseline": "middle", "dx": 7, "fontSize": 9.5, "color": "#222"},
          "encoding": {"x": {"datum": 8, "type": "quantitative", "axis": null}, "y": {"field": "r", "type": "quantitative"}, "text": {"field": "m"}}},
         {"data": {"values": [{"t": "3D-ABs", "c": 2}, {"t": "2D-ABs", "c": 6}]}, "mark": {"type": "text", "align": "center", "baseline": "middle", "dy": 10, "fontSize": 9.5, "color": "#222"},
          "encoding": {"x": {"field": "c", "type": "quantitative", "axis": null}, "y": {"datum": 20, "type": "quantitative"}, "text": {"field": "t"}}}
        ]
       },
       {
        "width": 340, "height": 318,
        "view": {"stroke": null},
        "layer": [
         {"data": {"values": [{"a": 2.1, "b": 26.4, "k": "d"}, {"a": 26.4, "b": 42.6, "k": "u"}]}, "mark": {"type": "rect"},
          "encoding": {
           "y": {"field": "a", "type": "quantitative", "scale": {"domain": [3.0, 42.75], "reverse": true, "nice": false, "zero": false},
                 "axis": {"title": "F", "labels": false, "ticks": false, "domain": false, "grid": false, "titleAngle": 0, "titleX": -1.5, "titleY": -14.5, "titleAlign": "right", "titleBaseline": "middle", "titleFontSize": 12, "titleFontWeight": "bold", "titleColor": "#000"}},
           "y2": {"field": "b"},
           "color": {"field": "k", "type": "nominal", "scale": {"domain": ["d", "u"], "range": ["#dce6f2", "#fbe1d3"]}, "legend": null}
          }},
         {"data": {"values": [{"a": 0}, {"a": 42.63}]}, "mark": {"type": "rule", "color": "#555", "strokeWidth": 1},
          "encoding": {"y": {"field": "a", "type": "quantitative"}}},
         {"data": {"name": "fm"}, "mark": {"type": "text", "align": "left", "baseline": "middle", "fontSize": 6.7, "color": "#333"},
          "encoding": {"x": {"datum": 0.9, "type": "quantitative", "scale": {"domain": [0, 100], "nice": false, "zero": false}, "axis": null}, "y": {"field": "l", "type": "quantitative"}, "text": {"field": "t"}}},
         {"data": {"name": "ff"}, "mark": {"type": "text", "align": "left", "baseline": "middle", "fontSize": 6.7, "color": "#333"},
          "encoding": {"x": {"datum": 15, "type": "quantitative", "axis": null}, "y": {"field": "l", "type": "quantitative"}, "text": {"field": "t"}}},
         {"data": {"name": "fr"}, "mark": {"type": "text", "align": "center", "baseline": "middle", "fontSize": 6.7, "color": "#333"},
          "encoding": {"x": {"datum": 92.6, "type": "quantitative", "axis": null}, "y": {"field": "l", "type": "quantitative"}, "text": {"field": "t"}}}
        ]
       }
      ]
     }
    ]
   }
  ]
 }
]
}
